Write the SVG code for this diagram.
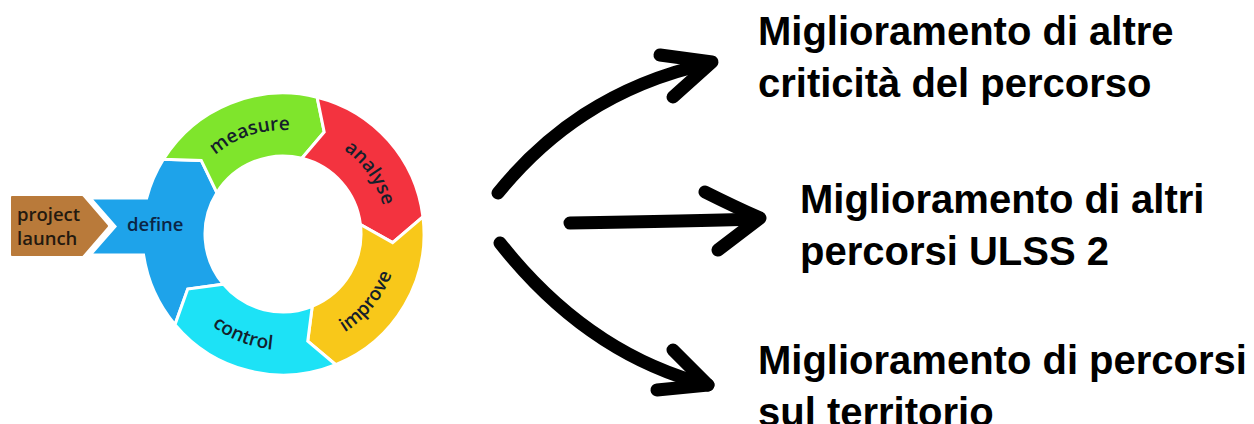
<svg xmlns="http://www.w3.org/2000/svg" width="1254" height="424" viewBox="0 0 1254 424">
  <style>
    .seg { stroke: #ffffff; stroke-width: 3; stroke-linejoin: miter; }
    .ring-label { font-family: "Open Sans", "Noto Sans", sans-serif; font-weight: 600; font-size: 19px; fill: #14202b; }
    .head-label { font-family: "Open Sans", "Noto Sans", sans-serif; font-weight: 600; font-size: 18.5px; }
    .outcome { font-family: "Liberation Sans", Arial, sans-serif; font-weight: 700; font-size: 40px; fill: #000000; }
    .arrow { fill: none; stroke: #000000; stroke-width: 13; stroke-linecap: round; stroke-linejoin: round; }
  </style>
  <defs>
    <!-- baselines for the curved ring labels (centre 283,234) -->
    <path id="arc-measure" d="M186.24,195.88 A104 104 0 0 1 337.34,145.33"/>
    <path id="arc-analyse" d="M292.07,130.40 A104 104 0 0 1 383.45,260.92"/>
    <path id="arc-improve" d="M285.02,349.98 A116 116 0 0 0 396.87,211.87"/>
    <path id="arc-control" d="M173.00,270.81 A116 116 0 0 0 338.36,335.94"/>
  </defs>

  <rect width="1254" height="424" fill="#ffffff"/>

  <!-- DMAIC cycle -->
  <g id="project-launch">
    <path d="M12,197 L82,197 L107,226 L82,255 L12,255 Z" fill="#b97a3a" stroke="#b97a3a" stroke-width="2" stroke-linejoin="round"/>
    <text class="head-label" fill="#24190f"><tspan x="17" y="221">project</tspan><tspan x="17" y="245">launch</tspan></text>
  </g>

  <g id="define">
    <path class="seg" fill="#1ea3ea" d="M174.99,324.63 A141 141 0 0 1 143.57,255 L90,255 L115,226.5 L90,198 L146.67,198 A141 141 0 0 1 163.43,159.28 L201.25,160.40 L216.86,192.67 A78 78 0 0 0 223.25,284.14 L187.74,289 Z"/>
    <text class="head-label" x="127" y="231" fill="#0b2545">define</text>
  </g>

  <g id="measure">
    <path class="seg" fill="#7fe52c" d="M163.43,159.28 A141 141 0 0 1 317.11,97.19 L324.21,132.01 L301.87,158.32 A78 78 0 0 0 216.86,192.67 L201.25,160.40 Z"/>
    <text class="ring-label"><textPath href="#arc-measure" startOffset="50%" text-anchor="middle">measure</textPath></text>
  </g>

  <g id="analyse">
    <path class="seg" fill="#f3333f" d="M317.11,97.19 A141 141 0 0 1 422.95,216.82 L392.66,242.63 L360.42,224.49 A78 78 0 0 0 301.87,158.32 L324.21,132.01 Z"/>
    <text class="ring-label"><textPath href="#arc-analyse" startOffset="50%" text-anchor="middle">analyse</textPath></text>
  </g>

  <g id="improve">
    <path class="seg" fill="#f8c81a" d="M422.95,216.82 A141 141 0 0 1 335.82,364.74 L307.75,341.18 L312.22,306.32 A78 78 0 0 0 360.42,224.49 L392.66,242.63 Z"/>
    <text class="ring-label"><textPath href="#arc-improve" startOffset="50%" text-anchor="middle">improve</textPath></text>
  </g>

  <g id="control">
    <path class="seg" fill="#1de2f6" d="M335.82,364.74 A141 141 0 0 1 174.99,324.63 L187.74,289 L223.25,284.14 A78 78 0 0 0 312.22,306.32 L307.75,341.18 Z"/>
    <text class="ring-label"><textPath href="#arc-control" startOffset="50%" text-anchor="middle">control</textPath></text>
  </g>

  <!-- hand-drawn arrows -->
  <g id="connectors">
    <path class="arrow" d="M498,193 C545,135 610,85 710,63"/>
    <path class="arrow" d="M660,55 L712,62 L673,97"/>
    <path class="arrow" d="M570,223 C640,222 700,221 758,219"/>
    <path class="arrow" d="M705,192 Q735,207 760,218 L718,250"/>
    <path class="arrow" d="M500,243 C545,300 610,360 708,385"/>
    <path class="arrow" d="M673,350 L708,385 L657,390"/>
  </g>

  <!-- outcomes -->
  <g id="outcome-1">
    <text class="outcome"><tspan x="758" y="45">Miglioramento di altre</tspan><tspan x="758" y="97">criticità del percorso</tspan></text>
  </g>
  <g id="outcome-2">
    <text class="outcome"><tspan x="800" y="213">Miglioramento di altri</tspan><tspan x="800" y="265">percorsi ULSS 2</tspan></text>
  </g>
  <g id="outcome-3">
    <text class="outcome"><tspan x="758" y="374">Miglioramento di percorsi</tspan><tspan x="758" y="426">sul territorio</tspan></text>
  </g>
</svg>
